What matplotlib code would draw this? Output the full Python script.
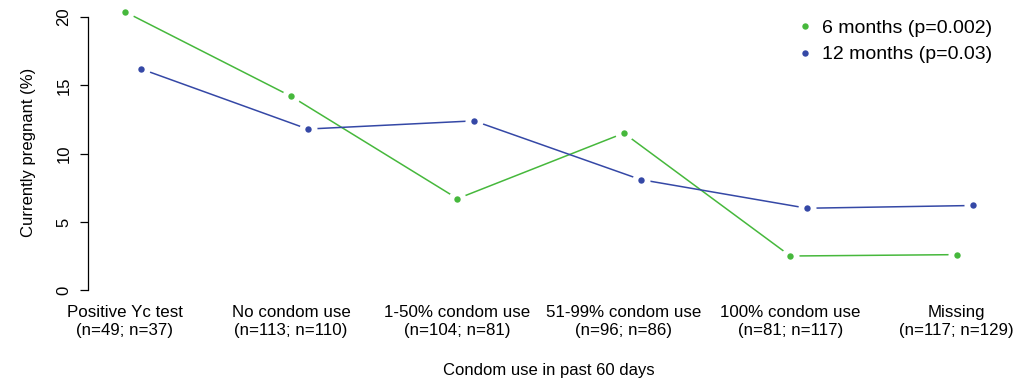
import matplotlib.pyplot as plt
import numpy as np

plt.rcParams['font.family'] = ['Liberation Sans', 'DejaVu Sans']

categories = ["Positive Yc test", "No condom use", "1-50% condom use",
              "51-99% condom use", "100% condom use", "Missing"]
counts = ["(n=49; n=37)", "(n=113; n=110)", "(n=104; n=81)",
          "(n=96; n=86)", "(n=81; n=117)", "(n=117; n=129)"]
six_months = [20.4, 14.2, 6.7, 11.5, 2.5, 2.6]
twelve_months = [16.2, 11.8, 12.4, 8.1, 6.0, 6.2]

green = "#46b83c"
blue = "#3548a6"

fig = plt.figure(figsize=(10.15, 3.84), dpi=100)
ax = fig.add_axes([88 / 1015, 0.216, 922 / 1015, 0.775])

x = np.arange(len(categories))
series = [(x, six_months, green, "6 months (p=0.002)"),
          (x + 0.1, twelve_months, blue, "12 months (p=0.03)")]

# type="b" look: lines broken around each point
for xs, ys, col, lab in series:
    ax.plot(xs, ys, color=col, lw=1.1, zorder=1)
for xs, ys, col, lab in series:
    ax.plot(xs, ys, ls="none", marker="o", ms=13, mfc="white", mec="none", zorder=2)
for xs, ys, col, lab in series:
    ax.plot(xs, ys, ls="none", marker="o", ms=4.6, mfc=col, mec="none", zorder=3, label=lab)

ax.set_xlim(-0.22, 5.32)
ax.set_ylim(-0.8, 21)

for s in ["top", "right", "bottom"]:
    ax.spines[s].set_visible(False)
ax.spines["left"].set_bounds(0, 20)
ax.spines["left"].set_linewidth(0.9)

ax.set_yticks([0, 5, 10, 15, 20])
ax.tick_params(axis="y", direction="out", length=6, width=0.9, pad=6, labelsize=12)
for t in ax.get_yticklabels():
    t.set_rotation(90)
    t.set_va("center")

ax.set_xticks(x)
ax.set_xticklabels([c + "\n" + n for c, n in zip(categories, counts)],
                   fontsize=12.2, linespacing=1.22)
ax.tick_params(axis="x", length=0, pad=3)

ax.set_ylabel("Currently pregnant (%)", fontsize=12, labelpad=15)
ax.set_xlabel("Condom use in past 60 days", fontsize=12, labelpad=18)

ax.legend(loc="upper right", bbox_to_anchor=(1.0, 1.005), frameon=False,
          fontsize=14, handlelength=0.6, handletextpad=0.6, labelspacing=0.45,
          markerscale=1.0)

fig.savefig("out.png", dpi=100)
